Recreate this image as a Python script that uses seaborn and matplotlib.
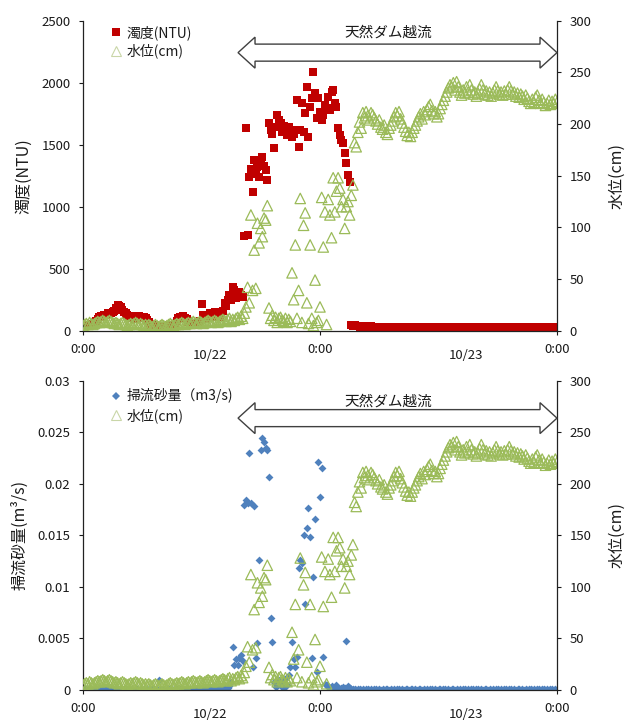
import numpy as np
import pandas as pd
import matplotlib
matplotlib.use("Agg")
import matplotlib.pyplot as plt
import matplotlib.transforms as mtransforms
from matplotlib.lines import Line2D
from matplotlib.patches import Polygon
from matplotlib.ticker import FuncFormatter, MultipleLocator
import seaborn as sns

# ---------------- data (10-minute records, 0:00 -> 0:00 two days later) ----------------
n_records = 289
time_h = np.arange(n_records) / 6.0          # hours since first 0:00

# turbidity (NTU)
turbidity_ntu = [
    40, 45, 38, 50, 45, 52, 48, 60, 75, 95,
    110, 115, 112, 125, 130, 140, 135, 142, 150, 160,
    185, 206, 200, 190, 170, 150, 140, 130, 120, 110,
    100, 95, 105, 115, 120, 110, 100, 112, 105, 90,
    70, 50, 42, 38, 35, 40, 36, 32, 35, 38,
    34, 40, 45, 40, 48, 42, 50, 75, 100, 110,
    108, 115, 105, 95, 70, 52, 45, 42, 50, 55,
    60, 80, 215, 130, 112, 95, 120, 140, 125, 110,
    150, 126, 140, 110, 150, 160, 222, 200, 247, 288,
    246, 353, 330, 263, 300, 313, 290, 270, 760, 1635,
    770, 1240, 1300, 1118, 1378, 1260, 1320, 1240, 1350, 1400,
    1330, 1297, 1215, 1675, 1620, 1590, 1473, 1640, 1740, 1700,
    1675, 1600, 1650, 1620, 1580, 1640, 1603, 1563, 1590, 1620,
    1861, 1480, 1620, 1837, 1603, 1756, 1966, 1560, 1805, 1877,
    2087, 1918, 1715, 1877, 1760, 1700, 1740, 1820, 1796, 1886,
    1780, 1926, 1942, 1837, 1805, 1635, 1580, 1538, 1514, 1433,
    1352, 1256, 1200, 45, 38, 42, 36, 40, 33, 37,
    35, 40, 32, 38, 30, 34, 28, 31, 27, 30,
    26, 29, 25, 28, 27, 30, 26, 24, 28, 25,
    27, 25, 29, 26, 24, 27, 25, 28, 26, 24,
    26, 28, 25, 27, 24, 26, 28, 25, 27, 26,
    24, 27, 25, 28, 26, 24, 27, 25, 26, 28,
    25, 27, 24, 26, 28, 25, 27, 26, 24, 27,
    26, 28, 25, 27, 24, 26, 25, 28, 26, 27,
    25, 27, 26, 24, 28, 25, 27, 26, 28, 25,
    27, 24, 26, 28, 25, 27, 26, 24, 27, 25,
    26, 28, 25, 27, 26, 24, 28, 25, 27, 26,
    24, 27, 25, 28, 26, 27, 25, 24, 26, 28,
    25, 27, 26, 24, 28, 25, 27, 26, 25,
]

# water level (cm)
water_level_cm = [
    5, 6, 7, 6, 8, 7, 6, 7, 8, 9,
    8, 9, 10, 9, 8, 9, 10, 9, 8, 7,
    8, 7, 6, 7, 8, 7, 6, 5, 6, 7,
    6, 7, 8, 7, 6, 7, 6, 5, 6, 5,
    6, 5, 4, 5, 6, 5, 4, 5, 6, 5,
    4, 5, 6, 7, 6, 5, 6, 7, 6, 7,
    8, 7, 6, 7, 8, 7, 8, 9, 8, 7,
    8, 9, 8, 7, 8, 9, 10, 9, 8, 9,
    10, 9, 8, 9, 10, 11, 10, 9, 11, 12,
    9, 11, 10, 12, 13, 11, 14, 12, 17, 23,
    42, 27, 112, 39, 78, 41, 104, 85, 99, 91,
    109, 107, 121, 22, 12, 15, 10, 13, 8, 12,
    13, 10, 9, 12, 8, 11, 9, 56, 30, 83,
    12, 39, 128, 8, 102, 114, 27, 7, 83, 12,
    5, 49, 8, 10, 23, 129, 81, 115, 6, 127,
    112, 90, 148, 115, 135, 148, 138, 120, 127, 99,
    120, 125, 112, 131, 141, 182, 178, 192, 202, 196,
    211, 206, 212, 208, 204, 211, 209, 206, 203, 200,
    204, 197, 195, 199, 192, 190, 196, 199, 203, 207,
    211, 208, 212, 205, 201, 197, 193, 189, 192, 188,
    192, 196, 199, 203, 207, 210, 205, 212, 209, 214,
    217, 219, 213, 210, 212, 207, 210, 215, 219, 223,
    227, 231, 235, 238, 236, 240, 233, 241, 236, 231,
    228, 233, 230, 236, 231, 238, 233, 229, 231, 227,
    230, 234, 238, 233, 229, 232, 228, 231, 227, 230,
    233, 236, 232, 229, 231, 228, 232, 229, 233, 236,
    232, 229, 231, 227, 230, 226, 229, 227, 224, 228,
    225, 222, 220, 224, 221, 226, 228, 223, 220, 224,
    221, 218, 220, 223, 219, 222, 220, 224, 221,
]

# bedload discharge (m3/s)
sediment_m3s = [
    0.0002, 0.0001, 0.0001, 0.0000, 0.0001, 0.0001, 0.0000, 0.0001, 0.0001, 0.0000,
    0.0001, 0.0000, 0.0001, 0.0001, 0.0000, 0.0001, 0.0000, 0.0001, 0.0001, 0.0000,
    0.0001, 0.0001, 0.0000, 0.0001, 0.0000, 0.0001, 0.0001, 0.0000, 0.0001, 0.0000,
    0.0001, 0.0000, 0.0001, 0.0001, 0.0000, 0.0001, 0.0000, 0.0001, 0.0000, 0.0001,
    0.0001, 0.0000, 0.0001, 0.0001, 0.0000, 0.0001, 0.0010, 0.0001, 0.0000, 0.0001,
    0.0000, 0.0001, 0.0001, 0.0000, 0.0001, 0.0000, 0.0001, 0.0001, 0.0000, 0.0001,
    0.0001, 0.0000, 0.0001, 0.0000, 0.0001, 0.0001, 0.0000, 0.0001, 0.0000, 0.0001,
    0.0000, 0.0001, 0.0001, 0.0000, 0.0001, 0.0000, 0.0001, 0.0001, 0.0000, 0.0001,
    0.0001, 0.0000, 0.0001, 0.0002, 0.0001, 0.0001, 0.0002, 0.0003, 0.0002, 0.0004,
    0.0008, 0.0042, 0.0024, 0.0030, 0.0024, 0.0031, 0.0034, 0.0028, 0.0179, 0.0184,
    0.0181, 0.0230, 0.0181, 0.0022, 0.0178, 0.0031, 0.0046, 0.0126, 0.0233, 0.0244,
    0.0241, 0.0235, 0.0233, 0.0207, 0.0070, 0.0047, 0.0008, 0.0003, 0.0006, 0.0010,
    0.0004, 0.0008, 0.0002, 0.0011, 0.0005, 0.0015, 0.0022, 0.0047, 0.0030, 0.0022,
    0.0032, 0.0118, 0.0126, 0.0123, 0.0150, 0.0083, 0.0157, 0.0177, 0.0148, 0.0031,
    0.0110, 0.0166, 0.0017, 0.0221, 0.0187, 0.0215, 0.0032, 0.0006, 0.0005, 0.0003,
    0.0002, 0.0004, 0.0002, 0.0003, 0.0005, 0.0002, 0.0001, 0.0002, 0.0003, 0.0002,
    0.0048, 0.0004, 0.0002, 0.0001, 0.0001, 0.0001, 0.0000, 0.0001, 0.0001, 0.0000,
    0.0001, 0.0000, 0.0001, 0.0001, 0.0000, 0.0001, 0.0000, 0.0001, 0.0001, 0.0000,
    0.0001, 0.0000, 0.0001, 0.0000, 0.0001, 0.0001, 0.0000, 0.0001, 0.0000, 0.0001,
    0.0000, 0.0001, 0.0001, 0.0000, 0.0001, 0.0000, 0.0001, 0.0001, 0.0000, 0.0001,
    0.0001, 0.0000, 0.0001, 0.0000, 0.0001, 0.0001, 0.0000, 0.0001, 0.0000, 0.0001,
    0.0000, 0.0001, 0.0001, 0.0000, 0.0001, 0.0000, 0.0001, 0.0001, 0.0000, 0.0001,
    0.0001, 0.0000, 0.0001, 0.0000, 0.0001, 0.0001, 0.0000, 0.0001, 0.0000, 0.0001,
    0.0000, 0.0001, 0.0001, 0.0000, 0.0001, 0.0000, 0.0001, 0.0001, 0.0000, 0.0001,
    0.0001, 0.0000, 0.0001, 0.0000, 0.0001, 0.0001, 0.0000, 0.0001, 0.0000, 0.0001,
    0.0000, 0.0001, 0.0001, 0.0000, 0.0001, 0.0000, 0.0001, 0.0001, 0.0000, 0.0001,
    0.0001, 0.0000, 0.0001, 0.0000, 0.0001, 0.0001, 0.0000, 0.0001, 0.0000, 0.0001,
    0.0000, 0.0001, 0.0001, 0.0000, 0.0001, 0.0000, 0.0001, 0.0001, 0.0000, 0.0001,
    0.0001, 0.0000, 0.0001, 0.0000, 0.0001, 0.0001, 0.0000, 0.0001, 0.0000,
]

x_tick_h = [0, 24, 48]
x_tick_labels = ["0:00", "0:00", "0:00"]
date_label_h = [12.9, 38.8]
date_labels = ["10/22", "10/23"]
overflow_start_h = 15.7
overflow_end_h = 48.0
overflow_label = "天然ダム越流"

df = pd.DataFrame({
    "time_h": time_h,
    "turbidity": turbidity_ntu,
    "level": water_level_cm,
    "sediment": sediment_m3s,
})

# ---------------- style ----------------
sns.set_style("ticks")
plt.rcParams["font.family"] = ["Noto Sans CJK JP", "DejaVu Sans"]
TXT = "#1a1a1a"
RED = "#C00000"
GREEN = "#9BBB59"
BLUE = "#4F81BD"
plt.rcParams["text.color"] = TXT
plt.rcParams["axes.edgecolor"] = "#222222"

W, H = 627, 720
fig = plt.figure(figsize=(W / 100, H / 100), dpi=100)


def px_axes(left, top, right, bottom):
    return fig.add_axes([left / W, 1 - bottom / H, (right - left) / W, (bottom - top) / H])


def style_axes(ax, ax2):
    for a in (ax, ax2):
        a.spines["top"].set_visible(False)
        for s in a.spines.values():
            s.set_linewidth(0.9)
    ax2.spines["left"].set_visible(False)
    ax2.spines["bottom"].set_visible(False)
    ax.spines["right"].set_visible(False)
    ax.set_xlim(0, 48)
    ax.set_xticks(x_tick_h)
    ax.set_xticklabels(x_tick_labels)
    ax.tick_params(axis="x", direction="out", length=3, width=0.8, labelsize=9.5, pad=6, colors=TXT)
    ax.tick_params(axis="y", direction="out", length=3, width=0.8, labelsize=9.5, pad=6, colors=TXT)
    ax2.tick_params(axis="y", direction="out", length=3, width=0.8, labelsize=9.5, pad=6, colors=TXT)
    ax2.set_ylim(0, 300)
    ax2.yaxis.set_major_locator(MultipleLocator(50))
    ax2.set_ylabel("水位(cm)", fontsize=11.5, color=TXT)
    ax2.yaxis.set_label_coords(1.108, 0.5)
    ax.set_xlabel("")
    for h, lab in zip(date_label_h, date_labels):
        ax.annotate(lab, xy=(h, 0), xycoords=("data", "axes fraction"),
                    xytext=(0, -17.6), textcoords="offset points",
                    ha="center", va="center", fontsize=9.5, color=TXT)


def draw_arrow(ax2, tip_y, head_half, shaft_half, text_y):
    trans = mtransforms.blended_transform_factory(ax2.transData, ax2.transAxes)
    head_len = 1.72
    x0, x1 = overflow_start_h, overflow_end_h
    pts = [
        (x0, tip_y), (x0 + head_len, tip_y + head_half), (x0 + head_len, tip_y + shaft_half),
        (x1 - head_len, tip_y + shaft_half), (x1 - head_len, tip_y + head_half), (x1, tip_y),
        (x1 - head_len, tip_y - head_half), (x1 - head_len, tip_y - shaft_half),
        (x0 + head_len, tip_y - shaft_half), (x0 + head_len, tip_y - head_half),
    ]
    poly = Polygon(pts, closed=True, transform=trans, facecolor="white",
                   edgecolor="#404040", linewidth=1.0, clip_on=False, zorder=5)
    ax2.add_patch(poly)
    ax2.text(30.9, text_y, overflow_label, transform=trans, ha="center", va="center",
             fontsize=10.5, color=TXT, zorder=6)


tri_kw = dict(marker="^", s=56, facecolor="none", edgecolor=GREEN, linewidth=0.9, legend=False)

# ---------------- top panel: turbidity ----------------
ax1 = px_axes(83, 20.7, 557, 330.7)
sns.scatterplot(data=df, x="time_h", y="turbidity", ax=ax1, marker="s", s=34,
                color=RED, edgecolor=RED, linewidth=0, legend=False)
ax1.set_ylim(0, 2500)
ax1.yaxis.set_major_locator(MultipleLocator(500))
ax1.set_ylabel("濁度(NTU)", fontsize=11.5, color=TXT)
ax1.yaxis.set_label_coords(-0.107, 0.5)
ax1b = ax1.twinx()
sns.scatterplot(data=df, x="time_h", y="level", ax=ax1b, **tri_kw)
style_axes(ax1, ax1b)
ax1b.set_xlabel("")
draw_arrow(ax1b, 0.897, 0.050, 0.0275, 0.961)

h_sq = Line2D([], [], marker="s", ls="none", color=RED, markersize=5.5, markeredgewidth=0)
h_tri = Line2D([], [], marker="^", ls="none", markerfacecolor="none",
               markeredgecolor="#C9D6A8", markersize=7, markeredgewidth=0.8)
ax1b.legend([h_sq, h_tri], ["濁度(NTU)", "水位(cm)"], loc="upper left",
            bbox_to_anchor=(0.058, 0.985), frameon=False, fontsize=10,
            handlelength=0.8, handletextpad=0.35, labelspacing=0.25,
            borderpad=0, borderaxespad=0)

# ---------------- bottom panel: bedload ----------------
ax2 = px_axes(83, 380.7, 557, 690)
sns.scatterplot(data=df, x="time_h", y="sediment", ax=ax2, marker="D", s=16,
                color=BLUE, edgecolor=BLUE, linewidth=0, legend=False)
ax2.set_ylim(0, 0.03)
ax2.yaxis.set_major_locator(MultipleLocator(0.005))
ax2.yaxis.set_major_formatter(FuncFormatter(lambda v, p: f"{v:g}"))
ax2.set_ylabel("掃流砂量(m³/s)", fontsize=11.5, color=TXT)
ax2.yaxis.set_label_coords(-0.116, 0.5)
ax2b = ax2.twinx()
sns.scatterplot(data=df, x="time_h", y="level", ax=ax2b, **tri_kw)
style_axes(ax2, ax2b)
ax2b.set_xlabel("")
draw_arrow(ax2b, 0.879, 0.050, 0.0275, 0.931)

h_dm = Line2D([], [], marker="D", ls="none", color=BLUE, markersize=4, markeredgewidth=0)
ax2b.legend([h_dm, h_tri], ["掃流砂量（m3/s)", "水位(cm)"], loc="upper left",
            bbox_to_anchor=(0.058, 0.975), frameon=False, fontsize=10,
            handlelength=0.8, handletextpad=0.35, labelspacing=0.35,
            borderpad=0, borderaxespad=0)

fig.savefig("out.png", dpi=100)
